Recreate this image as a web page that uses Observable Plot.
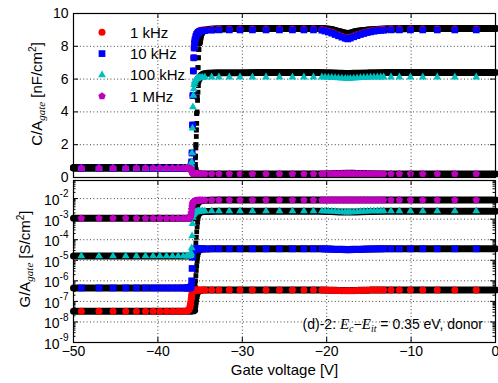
<!DOCTYPE html>
<html>
<head>
<meta charset="utf-8">
<script src="https://cdn.jsdelivr.net/npm/d3@7"></script>
<script src="https://cdn.jsdelivr.net/npm/@observablehq/plot@0.6"></script>
<style>
  body { margin: 0; background: #fff; }
  #chart { position: relative; width: 498px; height: 383px; }
</style>
</head>
<body>
<div id="chart"></div>
<script>
// ---- legend / axes ----
const frequencies = ["1 kHz", "10 kHz", "100 kHz", "1 MHz"];
const colors = ["#ff0000", "#0000ff", "#00bfbf", "#bf00bf"];
const vTicks = [-50, -40, -30, -20, -10, 0];
const vGrid = [-40, -30, -20, -10];
const cTicks = [0, 2, 4, 6, 8, 10];
const cGrid = [2, 4, 6, 8];
const gExponents = [-9, -8, -7, -6, -5, -4, -3, -2];
const xTitle = "Gate voltage [V]";

// ---- measured points (gate voltage, V) ----
const vMeas = [
  -49.07, -46.98, -45.32, -43.81, -42.54, -41.47, -40.57, -39.77, -38.98, -38.27, -37.6, -37.0, -36.6,
  -36.5, -36.4, -36.3, -36.2, -36.15, -36.1, -36.05, -36.0, -35.95, -35.9, -35.85, -35.8, -35.75, -35.7, -35.65, -35.6, -35.5, -35.4, -35.3, -35.2, -35.05, -34.9, -34.7,
  -34.43, -33.63, -32.77, -31.54, -30.27, -28.8, -27.19, -25.6, -24.06, -22.7, -21.57, -20.57,
  -20.2, -19.8, -19.4, -19.0, -18.6, -18.2, -17.8, -17.5, -17.2, -16.8, -16.4, -16.0, -15.6, -15.2, -14.8, -14.4, -14.0, -13.6,
  -13.25, -12.38, -11.39, -10.08, -8.62, -6.9, -4.82, -2.28
];

// capacitance per gate area, nF/cm^2
const c1k = [
  0.56, 0.56, 0.56, 0.56, 0.56, 0.56, 0.56, 0.56, 0.56, 0.56, 0.56, 0.56, 0.56,
  0.56, 0.57, 0.58, 0.6, 0.62, 0.66, 0.74, 0.95, 1.5, 3.2, 5.0, 6.5, 7.3, 7.9, 8.2, 8.4, 8.62, 8.76, 8.84, 8.9, 8.95, 8.98, 9.0,
  9.01, 9.03, 9.05, 9.05, 9.05, 9.05, 9.05, 9.05, 9.05, 9.05, 9.05, 9.03,
  8.98, 8.92, 8.85, 8.77, 8.69, 8.61, 8.54, 8.5, 8.55, 8.63, 8.7, 8.77, 8.83, 8.89, 8.93, 8.97, 9.0, 9.02,
  9.03, 9.05, 9.05, 9.05, 9.05, 9.05, 9.05, 9.05
];
const c10k = [
  0.56, 0.56, 0.56, 0.56, 0.56, 0.56, 0.56, 0.56, 0.56, 0.56, 0.56, 0.56, 0.56,
  0.56, 0.57, 0.58, 0.6, 0.62, 0.66, 0.74, 0.95, 1.5, 3.2, 5.0, 6.5, 7.3, 7.9, 8.2, 8.4, 8.6, 8.72, 8.8, 8.85, 8.9, 8.93, 8.95,
  8.96, 8.98, 9.0, 9.0, 9.0, 9.0, 9.0, 9.0, 9.0, 9.0, 9.0, 8.98,
  8.93, 8.87, 8.8, 8.72, 8.64, 8.56, 8.49, 8.45, 8.5, 8.58, 8.65, 8.72, 8.78, 8.84, 8.88, 8.92, 8.95, 8.97,
  8.98, 9.0, 9.0, 9.0, 9.0, 9.0, 9.0, 9.0
];
const c100k = [
  0.57, 0.57, 0.57, 0.57, 0.57, 0.57, 0.57, 0.57, 0.57, 0.57, 0.57, 0.57, 0.57,
  0.57, 0.58, 0.59, 0.6, 0.62, 0.66, 0.74, 0.95, 1.5, 3.0, 4.3, 5.0, 5.4, 5.65, 5.8, 5.9, 5.98, 6.02, 6.05, 6.07, 6.08, 6.09, 6.1,
  6.11, 6.12, 6.12, 6.12, 6.12, 6.12, 6.12, 6.12, 6.12, 6.12, 6.12, 6.12,
  6.11, 6.1, 6.09, 6.08, 6.06, 6.05, 6.03, 6.02, 6.03, 6.05, 6.06, 6.08, 6.09, 6.1, 6.11, 6.11, 6.12, 6.12,
  6.12, 6.12, 6.12, 6.12, 6.12, 6.12, 6.12, 6.12
];
const c1M = [
  0.57, 0.57, 0.57, 0.57, 0.57, 0.57, 0.57, 0.57, 0.57, 0.57, 0.57, 0.57, 0.57,
  0.57, 0.57, 0.57, 0.56, 0.54, 0.5, 0.44, 0.36, 0.3, 0.27, 0.25, 0.24, 0.24, 0.23, 0.23, 0.23, 0.23, 0.23, 0.23, 0.22, 0.22, 0.22, 0.22,
  0.22, 0.22, 0.22, 0.22, 0.22, 0.22, 0.22, 0.22, 0.22, 0.22, 0.22, 0.22,
  0.22, 0.22, 0.23, 0.23, 0.23, 0.24, 0.24, 0.24, 0.24, 0.24, 0.23, 0.23, 0.23, 0.22, 0.22, 0.22, 0.22, 0.22,
  0.22, 0.22, 0.22, 0.22, 0.22, 0.22, 0.22, 0.22
];

// conductance per gate area, S/cm^2
const g1k = [
  3.3e-8, 3.3e-8, 3.3e-8, 3.3e-8, 3.3e-8, 3.3e-8, 3.3e-8, 3.3e-8, 3.3e-8, 3.3e-8, 3.3e-8, 3.3e-8, 3.4e-8,
  3.5e-8, 3.7e-8, 4.2e-8, 5.5e-8, 7e-8, 9.5e-8, 1.4e-7, 2.0e-7, 2.6e-7, 3.0e-7, 3.2e-7, 3.3e-7, 3.4e-7, 3.45e-7, 3.5e-7, 3.52e-7, 3.55e-7, 3.57e-7, 3.58e-7, 3.6e-7, 3.6e-7, 3.6e-7, 3.6e-7,
  3.6e-7, 3.6e-7, 3.6e-7, 3.6e-7, 3.6e-7, 3.6e-7, 3.6e-7, 3.6e-7, 3.6e-7, 3.6e-7, 3.6e-7, 3.6e-7,
  3.55e-7, 3.5e-7, 3.45e-7, 3.4e-7, 3.36e-7, 3.32e-7, 3.28e-7, 3.25e-7, 3.28e-7, 3.32e-7, 3.36e-7, 3.4e-7, 3.45e-7, 3.5e-7, 3.53e-7, 3.56e-7, 3.58e-7, 3.6e-7,
  3.6e-7, 3.6e-7, 3.6e-7, 3.6e-7, 3.6e-7, 3.6e-7, 3.6e-7, 3.6e-7
];
const g10k = [
  4.5e-7, 4.5e-7, 4.5e-7, 4.5e-7, 4.5e-7, 4.5e-7, 4.5e-7, 4.5e-7, 4.5e-7, 4.5e-7, 4.5e-7, 4.5e-7, 4.5e-7,
  4.5e-7, 4.5e-7, 4.55e-7, 4.6e-7, 4.7e-7, 4.9e-7, 5.5e-7, 1.0e-6, 4e-6, 1.4e-5, 2.6e-5, 3.1e-5, 3.3e-5, 3.4e-5, 3.45e-5, 3.5e-5, 3.52e-5, 3.54e-5, 3.56e-5, 3.58e-5, 3.6e-5, 3.6e-5, 3.6e-5,
  3.6e-5, 3.6e-5, 3.6e-5, 3.6e-5, 3.6e-5, 3.6e-5, 3.6e-5, 3.6e-5, 3.6e-5, 3.6e-5, 3.6e-5, 3.6e-5,
  3.55e-5, 3.5e-5, 3.45e-5, 3.4e-5, 3.35e-5, 3.3e-5, 3.25e-5, 3.22e-5, 3.25e-5, 3.3e-5, 3.35e-5, 3.4e-5, 3.45e-5, 3.5e-5, 3.53e-5, 3.56e-5, 3.58e-5, 3.6e-5,
  3.6e-5, 3.6e-5, 3.6e-5, 3.6e-5, 3.6e-5, 3.6e-5, 3.6e-5, 3.6e-5
];
const g100k = [
  1.6e-5, 1.6e-5, 1.6e-5, 1.6e-5, 1.6e-5, 1.6e-5, 1.6e-5, 1.6e-5, 1.6e-5, 1.6e-5, 1.6e-5, 1.6e-5, 1.6e-5,
  1.6e-5, 1.6e-5, 1.62e-5, 1.65e-5, 1.7e-5, 1.8e-5, 2.2e-5, 4e-5, 1.5e-4, 6e-4, 1.2e-3, 1.6e-3, 1.85e-3, 2.0e-3, 2.1e-3, 2.15e-3, 2.25e-3, 2.3e-3, 2.35e-3, 2.4e-3, 2.42e-3, 2.45e-3, 2.47e-3,
  2.5e-3, 2.5e-3, 2.5e-3, 2.5e-3, 2.5e-3, 2.5e-3, 2.5e-3, 2.5e-3, 2.5e-3, 2.5e-3, 2.5e-3, 2.5e-3,
  2.48e-3, 2.45e-3, 2.4e-3, 2.35e-3, 2.3e-3, 2.25e-3, 2.2e-3, 2.18e-3, 2.2e-3, 2.25e-3, 2.3e-3, 2.35e-3, 2.4e-3, 2.43e-3, 2.46e-3, 2.48e-3, 2.5e-3, 2.5e-3,
  2.5e-3, 2.5e-3, 2.5e-3, 2.5e-3, 2.5e-3, 2.5e-3, 2.5e-3, 2.5e-3
];
const g1M = [
  1.1e-3, 1.1e-3, 1.1e-3, 1.1e-3, 1.1e-3, 1.1e-3, 1.1e-3, 1.1e-3, 1.1e-3, 1.1e-3, 1.1e-3, 1.1e-3, 1.1e-3,
  1.1e-3, 1.12e-3, 1.15e-3, 1.2e-3, 1.3e-3, 1.5e-3, 2.0e-3, 3.0e-3, 4.2e-3, 5.3e-3, 6.0e-3, 6.6e-3, 7.0e-3, 7.3e-3, 7.5e-3, 7.7e-3, 7.9e-3, 8.0e-3, 8.1e-3, 8.2e-3, 8.3e-3, 8.35e-3, 8.4e-3,
  8.5e-3, 8.5e-3, 8.5e-3, 8.5e-3, 8.5e-3, 8.5e-3, 8.5e-3, 8.5e-3, 8.5e-3, 8.5e-3, 8.5e-3, 8.5e-3,
  8.5e-3, 8.5e-3, 8.5e-3, 8.5e-3, 8.5e-3, 8.5e-3, 8.5e-3, 8.5e-3, 8.5e-3, 8.5e-3, 8.5e-3, 8.5e-3, 8.5e-3, 8.5e-3, 8.5e-3, 8.5e-3, 8.5e-3, 8.5e-3,
  8.5e-3, 8.5e-3, 8.5e-3, 8.5e-3, 8.5e-3, 8.5e-3, 8.5e-3, 8.5e-3
];

// ---- simulated curves (black); the steep step between -35.6 and -35.15 V is drawn point by point ----
const vSim = [
  -50, -36.0, -35.8, -35.65,
  -35.6, -35.55, -35.5, -35.45, -35.4, -35.35, -35.3, -35.25, -35.2, -35.15,
  -35.1, -35.0, -34.8, -34.5, -34.0, -33.0, -31.0, -28.0, -21.0, -19.5, -18.5, -17.5, -16.5, -15.0, -13.0, -10.0, 0
];
const stepFrom = -35.6, stepTo = -35.15;
const sC1k = [
  0.6, 0.6, 0.61, 0.62,
  0.8, 1.3, 2.0, 2.9, 3.9, 4.9, 5.9, 6.7, 7.3, 7.8,
  8.2, 8.55, 8.82, 8.95, 9.02, 9.06, 9.08, 9.08, 9.08, 9.02, 8.9, 8.78, 8.9, 9.0, 9.06, 9.08, 9.08
];
const sC10k = [
  0.6, 0.6, 0.61, 0.62,
  0.8, 1.3, 2.0, 2.9, 3.9, 4.9, 5.9, 6.7, 7.3, 7.8,
  8.2, 8.55, 8.82, 8.95, 9.02, 9.06, 9.08, 9.08, 9.08, 9.02, 8.9, 8.78, 8.9, 9.0, 9.06, 9.08, 9.08
];
const sC100k = [
  0.6, 0.6, 0.61, 0.62,
  0.8, 1.2, 1.8, 2.5, 3.3, 4.0, 4.7, 5.2, 5.6, 5.85,
  6.0, 6.15, 6.27, 6.33, 6.36, 6.38, 6.39, 6.4, 6.4, 6.38, 6.36, 6.34, 6.36, 6.38, 6.4, 6.4, 6.4
];
const sC1M = [
  0.58, 0.58, 0.58, 0.57,
  0.55, 0.5, 0.45, 0.4, 0.35, 0.31, 0.28, 0.26, 0.25, 0.24,
  0.23, 0.23, 0.22, 0.22, 0.22, 0.22, 0.22, 0.22, 0.22, 0.23, 0.25, 0.26, 0.25, 0.23, 0.22, 0.22, 0.22
];
const sG1k = [
  3.3e-8, 3.3e-8, 3.4e-8, 3.6e-8,
  4e-8, 5e-8, 6.5e-8, 9e-8, 1.25e-7, 1.7e-7, 2.2e-7, 2.6e-7, 2.9e-7, 3.1e-7,
  3.25e-7, 3.4e-7, 3.5e-7, 3.55e-7, 3.58e-7, 3.6e-7, 3.6e-7, 3.6e-7, 3.6e-7, 3.52e-7, 3.42e-7, 3.35e-7, 3.42e-7, 3.52e-7, 3.6e-7, 3.6e-7, 3.6e-7
];
const sG10k = [
  4.5e-7, 4.5e-7, 4.6e-7, 4.8e-7,
  6e-7, 1e-6, 1.8e-6, 3.2e-6, 5.5e-6, 9e-6, 1.4e-5, 1.9e-5, 2.4e-5, 2.8e-5,
  3.1e-5, 3.3e-5, 3.45e-5, 3.52e-5, 3.57e-5, 3.6e-5, 3.6e-5, 3.6e-5, 3.6e-5, 3.52e-5, 3.42e-5, 3.35e-5, 3.42e-5, 3.52e-5, 3.6e-5, 3.6e-5, 3.6e-5
];
const sG100k = [
  1.6e-5, 1.6e-5, 1.63e-5, 1.8e-5,
  2.2e-5, 3.8e-5, 7e-5, 1.3e-4, 2.4e-4, 4.2e-4, 7e-4, 1.05e-3, 1.4e-3, 1.7e-3,
  1.9e-3, 2.1e-3, 2.25e-3, 2.33e-3, 2.37e-3, 2.4e-3, 2.4e-3, 2.4e-3, 2.4e-3, 2.33e-3, 2.25e-3, 2.2e-3, 2.25e-3, 2.33e-3, 2.4e-3, 2.4e-3, 2.4e-3
];
const sG1M = [
  1.1e-3, 1.1e-3, 1.12e-3, 1.18e-3,
  1.25e-3, 1.5e-3, 1.9e-3, 2.4e-3, 3.1e-3, 3.9e-3, 4.7e-3, 5.5e-3, 6.1e-3, 6.6e-3,
  7.0e-3, 7.4e-3, 7.9e-3, 8.2e-3, 8.4e-3, 8.5e-3, 8.5e-3, 8.5e-3, 8.5e-3, 8.5e-3, 8.5e-3, 8.5e-3, 8.5e-3, 8.5e-3, 8.5e-3, 8.5e-3, 8.5e-3
];

// ---- drawing ----
const FONT = '"Liberation Sans", Arial, Helvetica, sans-serif';
const SERIF = '"Liberation Serif", "Times New Roman", serif';
const W = 498;

// pentagon marker for the 1 MHz series
const pentagon = {
  draw(context, size) {
    const R = Math.sqrt(size / 2.3776);
    for (let k = 0; k < 5; ++k) {
      const a = -Math.PI / 2 + k * 2 * Math.PI / 5;
      const px = R * Math.cos(a), py = R * Math.sin(a);
      if (k) context.lineTo(px, py); else context.moveTo(px, py);
    }
    context.closePath();
  }
};
const symbols = ["circle", "square", "triangle", pentagon];
const d3Symbols = [d3.symbolCircle, d3.symbolSquare, d3.symbolTriangle, pentagon];
const radii = [3.5, 3.8, 2.9, 3.4];

const series = frequencies.map((name, i) => ({
  name, color: colors[i], symbol: symbols[i], r: radii[i],
  c: [c1k, c10k, c100k, c1M][i],
  g: [g1k, g10k, g100k, g1M][i],
  sc: [sC1k, sC10k, sC100k, sC1M][i],
  sg: [sG1k, sG10k, sG100k, sG1M][i]
}));

const inStep = v => v >= stepFrom && v <= stepTo;
const stepV = vSim.filter(inStep);
const grid = {stroke: "#000", strokeOpacity: 0.75, strokeDasharray: "1,2.4", strokeWidth: 1};

function curveMarks(key, simKey) {
  // simulation: thick line on the plateaus, black squares along the steep step
  const simLines = series.map(s => Plot.line(vSim, {
    x: vSim, y: s[simKey].map((v, j) => inStep(vSim[j]) ? NaN : v),
    stroke: "#000", strokeWidth: 7, curve: "monotone-x"
  }));
  const simSteps = series.map(s => Plot.dot(stepV, {
    x: stepV, y: s[simKey].filter((v, j) => inStep(vSim[j])),
    symbol: "square", fill: "#000", stroke: "none", r: 2.7
  }));
  const dots = series.map(s => Plot.dot(vMeas, {x: vMeas, y: s[key], symbol: s.symbol, fill: s.color, stroke: "none", r: s.r}));
  return [...simLines, ...simSteps, ...dots];
}

// upper panel: capacitance
const topMargins = {marginTop: 13, marginBottom: 10, marginLeft: 73, marginRight: 3};
const topH = 187;
const topFH = topH - topMargins.marginTop - topMargins.marginBottom;
const FW = W - topMargins.marginLeft - topMargins.marginRight;

const topPlot = Plot.plot({
  width: W, height: topH, ...topMargins,
  style: {position: "absolute", top: "0px", left: "0px", background: "transparent", overflow: "visible", fontFamily: FONT, fontSize: "14px", color: "#000"},
  x: {domain: [-50, 0], axis: null},
  y: {domain: [0, 10]},
  marks: [
    Plot.gridX(vGrid, grid),
    Plot.gridY(cGrid, grid),
    ...curveMarks("c", "sc"),
    Plot.ruleX(vGrid, {insetTop: topFH - 5, stroke: "#000"}),
    Plot.ruleX(vGrid, {insetBottom: topFH - 5, stroke: "#000"}),
    Plot.ruleY(cGrid, {insetRight: FW - 5, stroke: "#000"}),
    Plot.ruleY(cGrid, {insetLeft: FW - 5, stroke: "#000"}),
    Plot.axisY(cTicks, {tickSize: 0, tickPadding: 5, fontSize: 14, label: null}),
    Plot.frame({stroke: "#000", strokeWidth: 1.2})
  ]
});

// lower panel: conductance (log)
const botTop = 170;
const botMargins = {marginTop: 10, marginBottom: 41, marginLeft: 73, marginRight: 3};
const botH = 383 - botTop;
const botFH = botH - botMargins.marginTop - botMargins.marginBottom;
const gMax = 10 ** -1.12;
const gMajor = gExponents.slice(1).map(e => 10 ** e);
const gMinor = gExponents.flatMap(e => d3.range(2, 10).map(m => m * 10 ** e)).filter(v => v < gMax);

const botPlot = Plot.plot({
  width: W, height: botH, ...botMargins,
  style: {position: "absolute", top: botTop + "px", left: "0px", background: "transparent", overflow: "visible", fontFamily: FONT, fontSize: "14px", color: "#000"},
  x: {domain: [-50, 0]},
  y: {type: "log", domain: [1e-9, gMax], axis: null},
  marks: [
    Plot.gridX(vGrid, grid),
    Plot.gridY(gMajor, grid),
    ...curveMarks("g", "sg"),
    Plot.ruleX(vGrid, {insetTop: botFH - 5, stroke: "#000"}),
    Plot.ruleX(vGrid, {insetBottom: botFH - 5, stroke: "#000"}),
    Plot.ruleY(gMajor, {insetRight: FW - 5, stroke: "#000"}),
    Plot.ruleY(gMajor, {insetLeft: FW - 5, stroke: "#000"}),
    Plot.ruleY(gMinor, {insetRight: FW - 2.5, stroke: "#000"}),
    Plot.ruleY(gMinor, {insetLeft: FW - 2.5, stroke: "#000"}),
    Plot.text(gExponents, {y: e => 10 ** e, text: () => "10", frameAnchor: "left", textAnchor: "end", dx: -14, dy: 2, fontSize: 14}),
    Plot.text(gExponents, {y: e => 10 ** e, text: e => String(e), frameAnchor: "left", textAnchor: "end", dx: -5, dy: -4.5, fontSize: 10}),
    Plot.axisX(vTicks, {tickSize: 0, tickPadding: 4, fontSize: 14, label: null}),
    Plot.text([xTitle], {frameAnchor: "bottom", dy: 32, fontSize: 15}),
    Plot.frame({stroke: "#000", strokeWidth: 1.2})
  ]
});

const chart = document.getElementById("chart");
chart.append(topPlot, botPlot);

// rotated y titles with subscript/superscript
function yTitle(svg, x, y, parts) {
  const t = d3.select(svg).append("text")
    .attr("transform", `translate(${x},${y}) rotate(-90)`)
    .attr("text-anchor", "middle")
    .attr("font-family", FONT).attr("font-size", 15).attr("fill", "#000");
  for (const p of parts) {
    const s = t.append("tspan").text(p.text);
    if (p.dy) s.attr("dy", p.dy);
    if (p.size) s.attr("font-size", p.size);
    if (p.serif) s.attr("font-family", SERIF).attr("font-style", "italic");
  }
}
yTitle(topPlot, 42, 94, [
  {text: "C/A"}, {text: "gate", serif: true, size: 11, dy: 3}, {text: " [nF/cm", size: 15, dy: -3},
  {text: "2", size: 10, dy: -6}, {text: "]", size: 15, dy: 6}
]);
yTitle(botPlot, 29.5, 259 - botTop, [
  {text: "G/A"}, {text: "gate", serif: true, size: 11, dy: 3}, {text: " [S/cm", size: 15, dy: -3},
  {text: "2", size: 10, dy: -6}, {text: "]", size: 15, dy: 6}
]);

// legend in the upper panel
const lg = d3.select(topPlot).append("g");
series.forEach((s, i) => {
  const y = 32.3 + i * 21.3;
  lg.append("path")
    .attr("transform", `translate(102,${y})`)
    .attr("d", d3.symbol(d3Symbols[i], Math.PI * s.r * s.r)())
    .attr("fill", s.color);
  lg.append("text").attr("x", 130).attr("y", y).attr("dy", "0.36em")
    .attr("text-anchor", "start")
    .attr("font-family", FONT).attr("font-size", 15).attr("fill", "#000")
    .text(s.name);
});

// annotation in the lower panel
const note = d3.select(botPlot).append("text")
  .attr("x", 483).attr("y", 328.5 - botTop)
  .attr("text-anchor", "end")
  .attr("font-family", FONT).attr("font-size", 14).attr("fill", "#000");
note.append("tspan").text("(d)-2: ");
note.append("tspan").attr("font-family", SERIF).attr("font-style", "italic").attr("font-size", 15).text("E");
note.append("tspan").attr("font-family", SERIF).attr("font-style", "italic").attr("font-size", 10).attr("dy", 3).text("c");
note.append("tspan").attr("dy", -3).attr("font-size", 14).text("\u2212");
note.append("tspan").attr("font-family", SERIF).attr("font-style", "italic").attr("font-size", 15).text("E");
note.append("tspan").attr("font-family", SERIF).attr("font-style", "italic").attr("font-size", 10).attr("dy", 3).text("it");
note.append("tspan").attr("dy", -3).attr("font-size", 14).text(" = 0.35 eV, donor");
</script>
</body>
</html>
